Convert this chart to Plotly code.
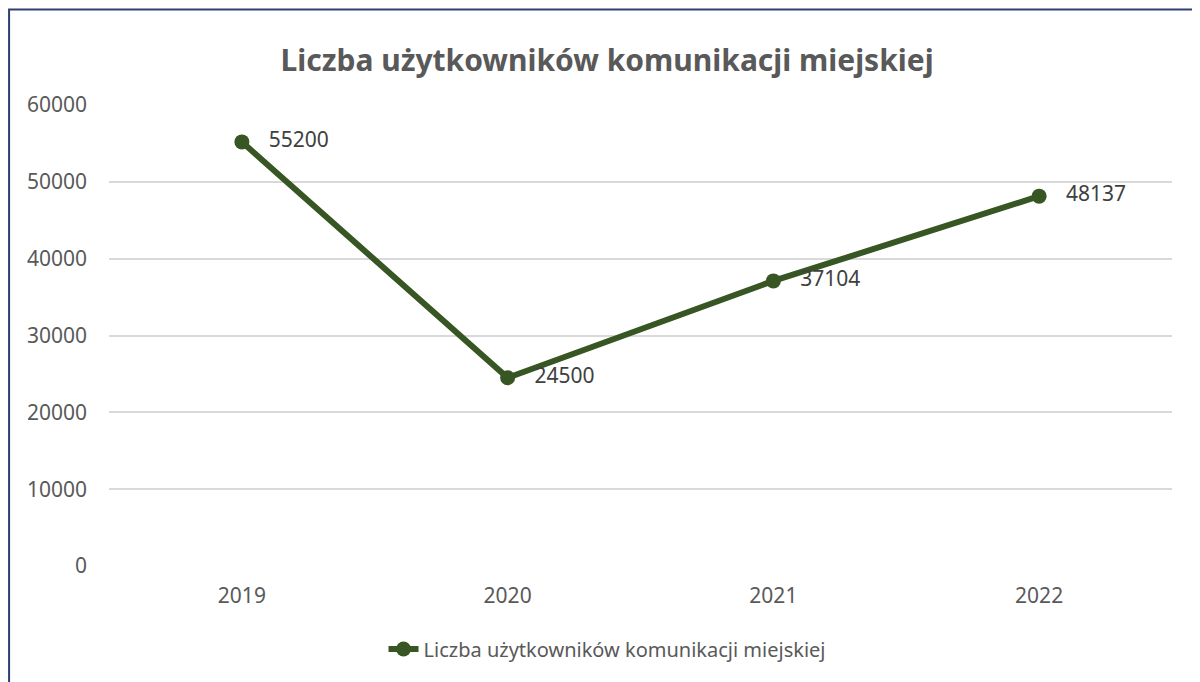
import plotly.graph_objects as go

years = ["2019", "2020", "2021", "2022"]
users = [55200, 24500, 37104, 48137]
series_name = "Liczba użytkowników komunikacji miejskiej"
title_text = "Liczba użytkowników komunikacji miejskiej"

GREEN = "#375623"
TEXT = "#595959"
FONT = "Noto Sans"

# page body has an 8px margin; plot box is placed to match the reference
W, H = 1200, 674

fig = go.Figure()
fig.add_trace(go.Scatter(
    x=years,
    y=users,
    name=series_name,
    mode="lines+markers+text",
    text=["   " + str(v) for v in users],
    textposition="middle right",
    textfont=dict(family=FONT, size=21, color="#404040"),
    line=dict(color=GREEN, width=6),
    marker=dict(color=GREEN, size=15),
))

fig.update_layout(
    width=W,
    height=H,
    margin=dict(l=101, r=36, t=97, b=116),
    paper_bgcolor="white",
    plot_bgcolor="white",
    font=dict(family=FONT, color=TEXT),
    title=dict(
        text="<b>" + title_text + "</b>",
        x=0.4685, xref="paper", xanchor="center",
        y=1 - 52 / H, yref="container", yanchor="middle",
        font=dict(family=FONT, size=30, color=TEXT),
    ),
    showlegend=True,
    legend=dict(
        orientation="h",
        x=0.4685, xanchor="center",
        y=-0.18, yanchor="middle",
        font=dict(family=FONT, size=20, color=TEXT),
    ),
    xaxis=dict(
        type="category",
        range=[-0.5, 3.5],
        showgrid=False,
        showline=False,
        zeroline=False,
        ticks="",
        ticklabelstandoff=15,
        tickfont=dict(family=FONT, size=21, color=TEXT),
    ),
    yaxis=dict(
        range=[0, 60000],
        dtick=10000,
        tickformat="d",
        showgrid=True,
        gridcolor="#D9D9D9",
        gridwidth=1.5,
        zeroline=False,
        showline=False,
        ticks="",
        ticklabelstandoff=21,
        tickfont=dict(family=FONT, size=21, color=TEXT),
    ),
)

# frame of the chart area (cut off at right and bottom in the reference)
fig.add_shape(
    type="rect", xref="paper", yref="paper",
    x0=-0.094, x1=1.05, y0=-0.3, y1=1.2072,
    line=dict(color="#2F3F73", width=2),
    fillcolor="rgba(0,0,0,0)",
    layer="below",
)

fig.write_html("out.html")
